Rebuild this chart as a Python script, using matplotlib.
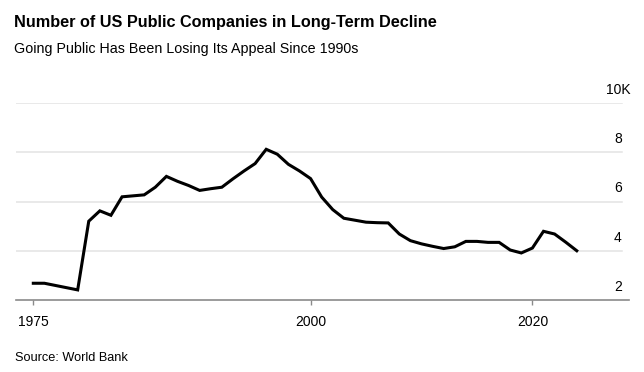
import matplotlib
matplotlib.use("Agg")
from matplotlib import pyplot as plt

# US listed domestic companies, thousands (World Bank)
years = list(range(1975, 2025))
companies = [2.68, 2.68, 2.59, 2.50, 2.41, 5.20, 5.62, 5.44, 6.19, 6.23,
             6.27, 6.58, 7.02, 6.82, 6.65, 6.45, 6.52, 6.58, 6.92, 7.24,
             7.54, 8.12, 7.92, 7.51, 7.24, 6.93, 6.18, 5.67, 5.32, 5.24,
             5.16, 5.14, 5.13, 4.68, 4.41, 4.28, 4.18, 4.09, 4.16, 4.38,
             4.38, 4.34, 4.34, 4.03, 3.91, 4.11, 4.79, 4.68, 4.35, 4.00]

x_ticks = [1975, 2000, 2020]
y_ticks = [2, 4, 6, 8, 10]
y_tick_labels = ["2", "4", "6", "8", "10K"]

title = "Number of US Public Companies in Long-Term Decline"
subtitle = "Going Public Has Been Losing Its Appeal Since 1990s"
source = "Source: World Bank"

narrow = ["Liberation Sans Narrow", "Liberation Sans", "DejaVu Sans"]
plt.rcParams["font.family"] = narrow

fig = plt.figure(figsize=(6.44, 3.72), dpi=100)
ax = fig.add_axes([16 / 644, 1 - 300 / 372, 613 / 644, 197 / 372])

ax.plot(years, companies, color="black", linewidth=2.2, solid_joinstyle="miter", zorder=3)

ax.set_xlim(1973.44, 2028.71)
ax.set_ylim(2, 10)

# gridlines stop a little short of the right edge
for v in y_ticks[1:]:
    ax.axhline(v, xmin=0, xmax=606 / 613, color="#e3e3e3", linewidth=1.1, zorder=1)

for v, lab in zip(y_ticks, y_tick_labels):
    ax.annotate(lab, xy=(602 / 613, v), xycoords=("axes fraction", "data"),
                xytext=(0, 9), textcoords="offset pixels",
                ha="center", va="baseline", fontsize=10, color="black")

for s in ["top", "left", "right"]:
    ax.spines[s].set_visible(False)
ax.spines["bottom"].set_color("#8a8a8a")
ax.spines["bottom"].set_linewidth(1.2)

ax.set_xticks(x_ticks)
ax.set_xticklabels([str(x) for x in x_ticks], fontsize=10)
ax.tick_params(axis="x", direction="out", length=3.5, width=1, color="#8a8a8a", pad=7)
ax.set_yticks([])

t1 = fig.text(14 / 644, 1 - 27.5 / 372, title, fontsize=13, fontweight="bold", va="baseline")
t2 = fig.text(14 / 644, 1 - 53.5 / 372, subtitle, fontsize=11, va="baseline")
t3 = fig.text(15 / 644, 1 - 361 / 372, source, fontsize=9, va="baseline")

# scale the header/footer text so its width matches the original
fig.canvas.draw()
renderer = fig.canvas.get_renderer()
for t, w in [(t1, 422), (t2, 340), (t3, 114)]:
    bb = t.get_window_extent(renderer)
    t.set_fontsize(t.get_fontsize() * w / bb.width)

fig.savefig("out.png", dpi=100)
